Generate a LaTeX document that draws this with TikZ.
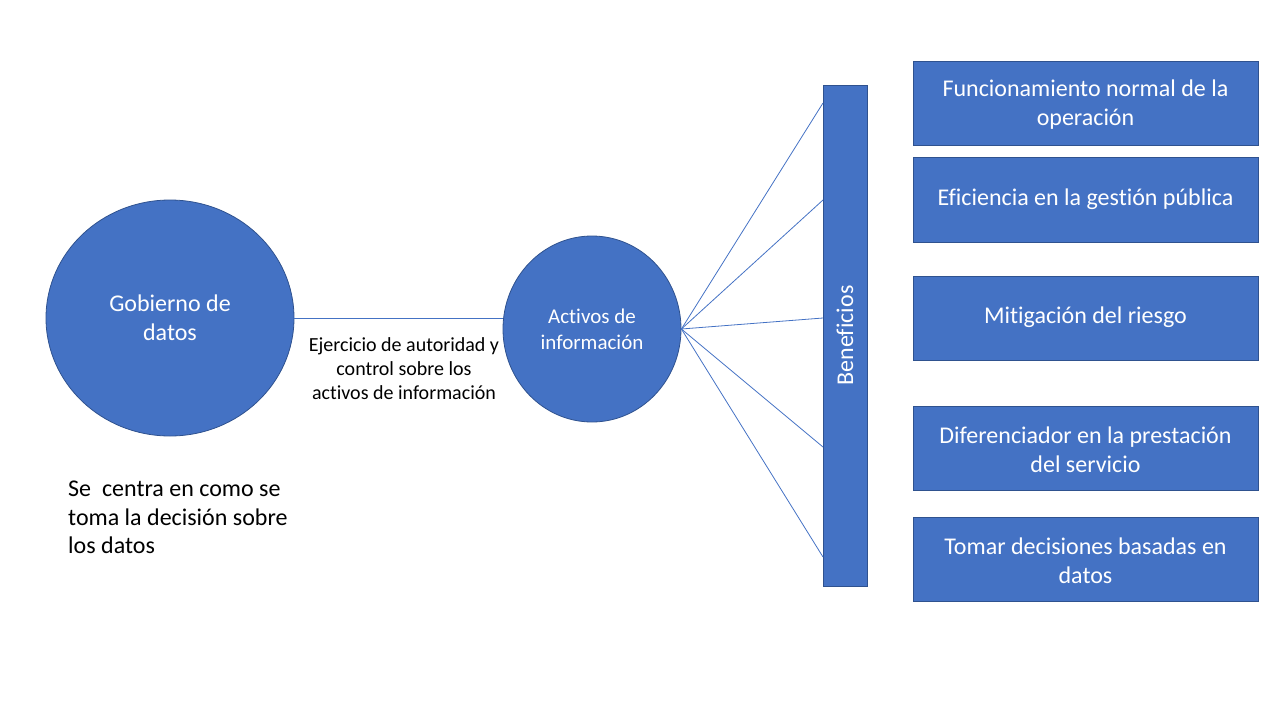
\documentclass[tikz,border=0pt]{standalone}
\usepackage{fontspec}
\usetikzlibrary{shapes.geometric}
\setmainfont{Carlito}[Ligatures=CommonOff]
\definecolor{fillblue}{HTML}{4472C4}
\definecolor{edgeblue}{HTML}{2F528F}
\begin{document}
\begin{tikzpicture}[x=1pt,y=-1pt,
  blueshape/.style={fill=fillblue,draw=edgeblue,line width=0.8pt,text=white,align=center,inner sep=0pt},
  benbox/.style={blueshape,rectangle,minimum width=345pt,minimum height=84pt,text width=335pt,align=flush center,font=\fontsize{24}{29}\selectfont},
  link/.style={draw=fillblue,line width=0.8pt}]
\useasboundingbox (0,0) rectangle (1280,720);
\node[blueshape,ellipse,minimum width=248pt,minimum height=236pt,font=\fontsize{24}{29}\selectfont] (gob) at (170,318) {Gobierno de\\datos};
\node[blueshape,ellipse,minimum width=178pt,minimum height=186pt,font=\fontsize{21}{26}\selectfont] (act) at (592,329) {Activos de\\información};
\draw[link] (gob.east) -- (gob.east -| act.west);
\node[align=center,font=\fontsize{20}{24}\selectfont,inner sep=0pt] (lbl) at (404,369) {Ejercicio de autoridad y\\control sobre los\\activos de información};
\node[blueshape,rectangle,minimum width=44pt,minimum height=501pt] (ben) at (845,335.5) {};
\node[rotate=90,text=white,font=\fontsize{24}{29}\selectfont,inner sep=0pt] (bentxt) at (ben.center) {Beneficios};
\coordinate (b1) at (823,103);
\coordinate (b2) at (823,200);
\coordinate (b3) at (823,318);
\coordinate (b4) at (823,447);
\coordinate (b5) at (823,557);
\foreach \c in {b1,b2,b3,b4,b5} \draw[link] (act.east) -- (\c);
\node[benbox] (r1) at (1085.5,103) {\strut Funcionamiento normal de la\\operación};
\node[benbox,minimum height=85pt] (r2) at (1085.5,199.5) {\strut Eficiencia en la gestión pública};
\node[benbox] (r3) at (1085.5,318) {\strut Mitigación del riesgo};
\node[benbox] (r4) at (1085.5,448) {\strut Diferenciador en la prestación\\del servicio};
\node[benbox] (r5) at (1085.5,559) {\strut Tomar decisiones basadas en\\datos};
\node[anchor=north west,align=left,font=\fontsize{24}{28.5}\selectfont,inner sep=0pt] (note) at (68,481) {Se\ \ centra en como se\\toma la decisión sobre\\los datos};
\end{tikzpicture}
\end{document}
